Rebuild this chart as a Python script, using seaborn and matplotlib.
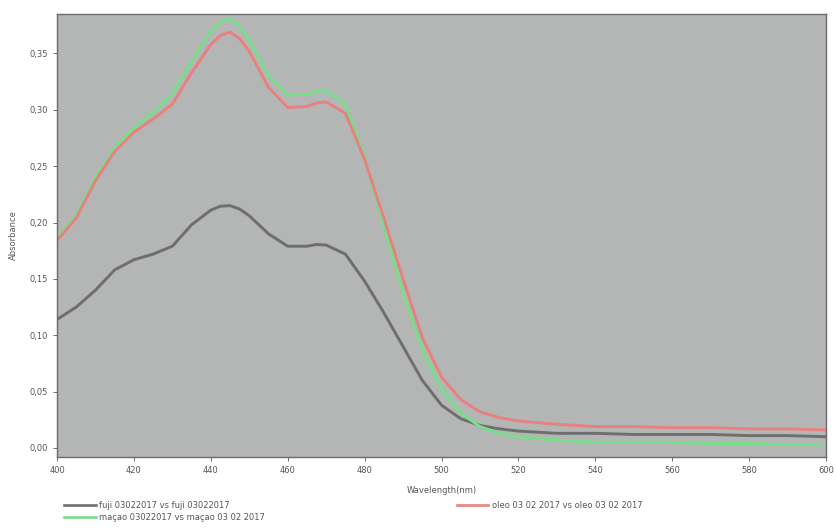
import numpy as np
import pandas as pd
import matplotlib
matplotlib.use("Agg")
import matplotlib.pyplot as plt
import matplotlib.ticker as mticker
import seaborn as sns

wavelength = [400, 405, 410, 415, 420, 425, 430, 435, 440, 442.5, 445, 447.5, 450, 455,
              460, 465, 467.5, 470, 475, 480, 485, 490, 495, 500, 505, 510, 515, 520,
              530, 540, 550, 560, 570, 580, 590, 600]

fuji = [0.114, 0.125, 0.140, 0.158, 0.167, 0.172, 0.179, 0.198, 0.211, 0.2145, 0.215,
        0.212, 0.206, 0.190, 0.179, 0.179, 0.1805, 0.180, 0.172, 0.148, 0.120, 0.090,
        0.060, 0.038, 0.026, 0.020, 0.017, 0.015, 0.013, 0.013, 0.012, 0.012, 0.012,
        0.011, 0.011, 0.010]

macao = [0.186, 0.206, 0.240, 0.266, 0.284, 0.298, 0.314, 0.343, 0.370, 0.378, 0.381,
         0.374, 0.362, 0.330, 0.313, 0.314, 0.3165, 0.317, 0.305, 0.258, 0.197, 0.138,
         0.088, 0.052, 0.031, 0.019, 0.013, 0.010, 0.007, 0.005, 0.005, 0.005, 0.004,
         0.004, 0.003, 0.003]

oleo = [0.184, 0.204, 0.237, 0.263, 0.280, 0.292, 0.305, 0.333, 0.358, 0.366, 0.369,
        0.363, 0.352, 0.320, 0.302, 0.303, 0.306, 0.307, 0.297, 0.256, 0.204, 0.150,
        0.098, 0.063, 0.043, 0.032, 0.027, 0.024, 0.021, 0.019, 0.019, 0.018, 0.018,
        0.017, 0.017, 0.016]

series_names = ["fuji 03022017 vs fuji 03022017",
                "maçao 03022017 vs maçao 03 02 2017",
                "oleo 03 02 2017 vs oleo 03 02 2017"]
series_colors = ["#6e6e6e", "#76df88", "#e8807f"]

x_ticks = [400, 420, 440, 460, 480, 500, 520, 540, 560, 580, 600]
y_ticks = [0.00, 0.05, 0.10, 0.15, 0.20, 0.25, 0.30, 0.35]

df = pd.concat([
    pd.DataFrame({"Wavelength": wavelength, "Absorbance": vals, "series": name})
    for name, vals in zip(series_names, [fuji, macao, oleo])
], ignore_index=True)

fig = plt.figure(figsize=(8.36, 5.28), dpi=100)
fig.patch.set_facecolor("white")
ax = fig.add_axes([57 / 836, 1 - 457 / 528, (826 - 57) / 836, (457 - 14) / 528])
ax.set_facecolor("#b4b6b6")

sns.lineplot(data=df, x="Wavelength", y="Absorbance", hue="series",
             hue_order=series_names, palette=series_colors, linewidth=2.1,
             ax=ax, legend=False, sort=True, solid_joinstyle="round",
             solid_capstyle="round")

ax.set_xlim(400, 600)
ax.set_ylim(-0.008, 0.385)
ax.set_xticks(x_ticks)
ax.set_yticks(y_ticks)
ax.yaxis.set_major_formatter(mticker.FuncFormatter(lambda v, p: f"{v:.2f}".replace(".", ",")))
ax.tick_params(axis="both", labelsize=6, colors="#555555", length=3, width=0.6)
ax.grid(True, color="#bdbfbf", linestyle=(0, (1, 3)), linewidth=0.6)
ax.set_axisbelow(True)
for s in ax.spines.values():
    s.set_color("#6a6a6a")
    s.set_linewidth(1.0)

ax.set_xlabel("Wavelength(nm)", fontsize=6, color="#555555", labelpad=8)
ax.set_ylabel("Absorbance", fontsize=6, color="#555555", labelpad=8)

handles = [plt.Line2D([], [], color=c, linewidth=1.9) for c in series_colors]
fig.legend(handles, series_names, ncol=2, loc="upper left",
           bbox_to_anchor=(64 / 836, 1 - 501 / 528), frameon=False,
           fontsize=6, labelcolor="#555555", handlelength=3.8, handletextpad=0.4,
           columnspacing=23, labelspacing=0.4, borderaxespad=0, borderpad=0)

fig.savefig("out.png", dpi=100)
